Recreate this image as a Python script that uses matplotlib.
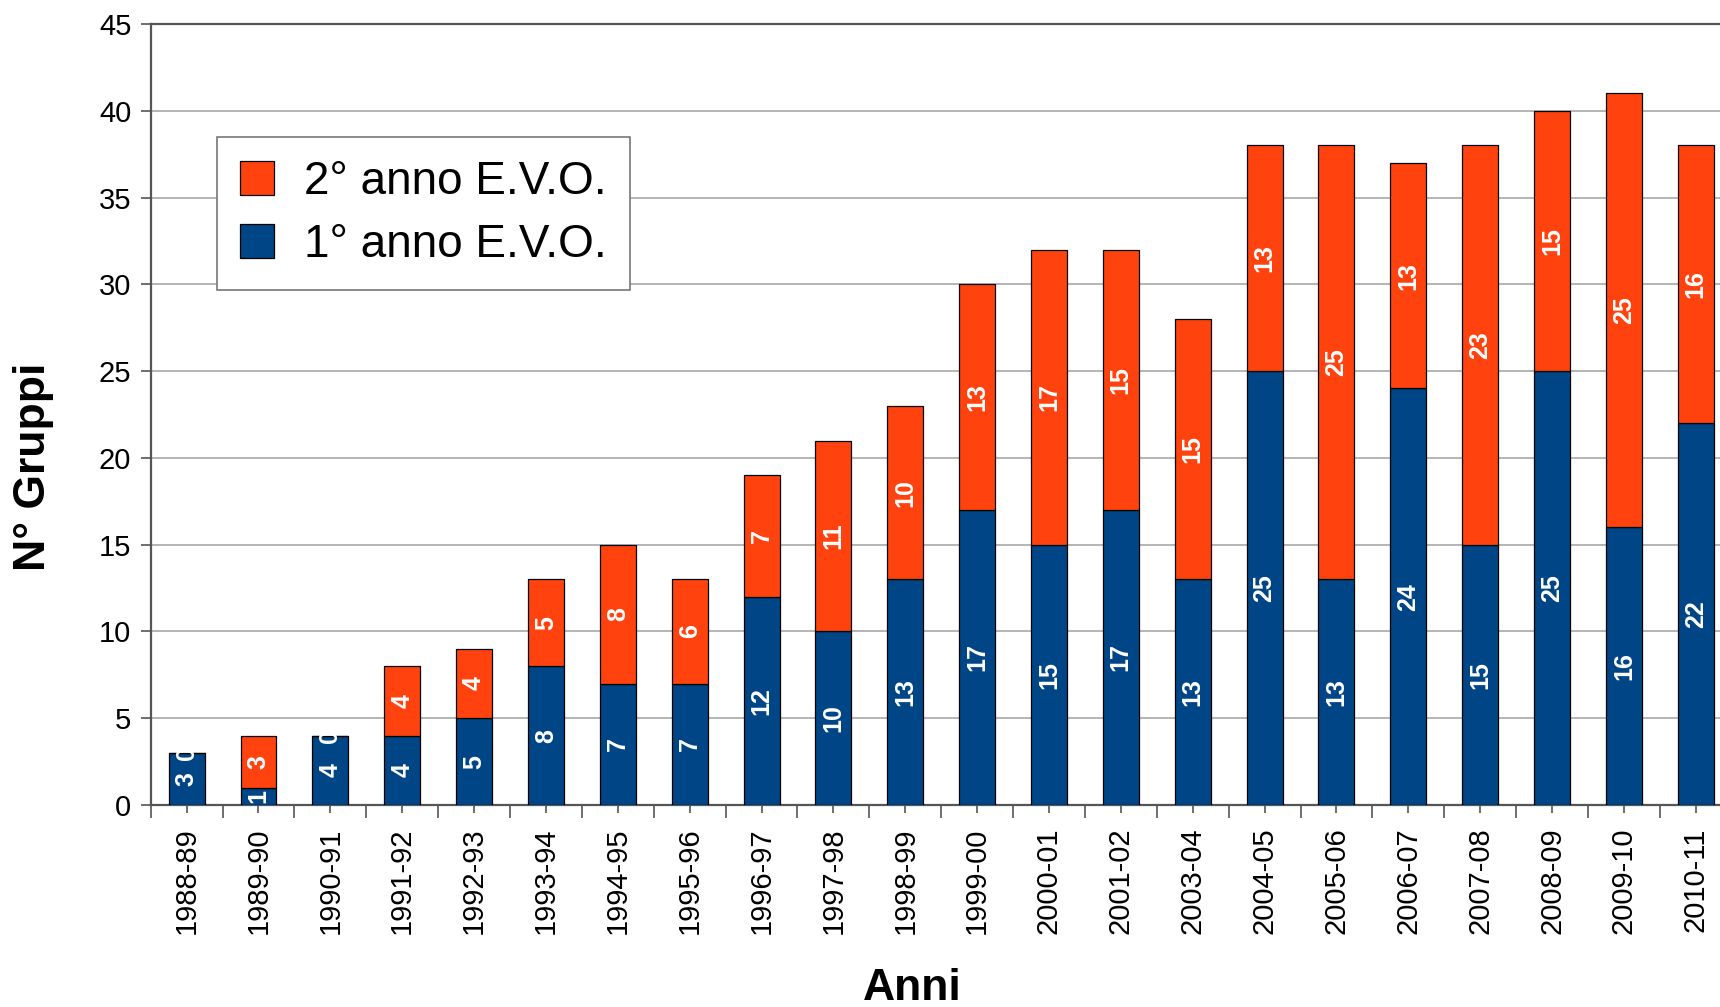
import matplotlib as mpl
mpl.use('agg')
import matplotlib.pyplot as plt
import numpy as np

plt.rcParams['font.family'] = ['Liberation Sans', 'DejaVu Sans']

anni = ['1988-89', '1989-90', '1990-91', '1991-92', '1992-93', '1993-94',
        '1994-95', '1995-96', '1996-97', '1997-98', '1998-99', '1999-00',
        '2000-01', '2001-02', '2003-04', '2004-05', '2005-06', '2006-07',
        '2007-08', '2008-09', '2009-10', '2010-11']
primo = [3, 1, 4, 4, 5, 8, 7, 7, 12, 10, 13, 17, 15, 17, 13, 25, 13, 24, 15, 25, 16, 22]
secondo = [0, 3, 0, 4, 4, 5, 8, 6, 7, 11, 10, 13, 17, 15, 15, 13, 25, 13, 23, 15, 25, 16]

BLUE = '#004586'
ORANGE = '#ff420e'

W, H = 1720, 1007
fig = plt.figure(figsize=(W / 100, H / 100), dpi=100)
# axes run a little past the right edge, like in the original export
ax = fig.add_axes([150.7 / W, (H - 805) / H, 1581 / W, 781 / H])

x = np.arange(len(anni))
b1 = ax.bar(x, primo, width=0.5, color=BLUE, edgecolor='black', linewidth=0.9,
            label='1° anno E.V.O.', zorder=3)
b2 = ax.bar(x, secondo, width=0.5, bottom=primo, color=ORANGE, edgecolor='black',
            linewidth=0.9, label='2° anno E.V.O.', zorder=3)

for bars in (b1, b2):
    ax.bar_label(bars, label_type='center', rotation=90, color='white',
                 fontweight='bold', fontsize=18, zorder=4)

ax.set_xlim(-0.5, len(anni) - 0.5)
ax.set_ylim(0, 45)
ax.set_yticks(np.arange(0, 46, 5))
ax.set_xticks(x)
ax.set_xticklabels(anni, rotation=90)
ax.set_xticks(np.arange(-0.5, len(anni), 1), minor=True)

ax.grid(axis='y', color='#a8a8a8', linewidth=1.2, zorder=0)
ax.set_axisbelow(True)

for s in ['left', 'bottom', 'top']:
    ax.spines[s].set_color('#555555')
    ax.spines[s].set_linewidth(1.6)
ax.spines['right'].set_visible(False)

ax.tick_params(axis='y', which='major', length=7, width=1.2, color='#555555',
               labelsize=21, pad=7)
ax.tick_params(axis='x', which='major', length=6, width=1.2, color='#555555',
               labelsize=21, pad=10)
ax.tick_params(axis='x', which='minor', length=9, width=1.2, color='#555555')

leg = ax.legend(handles=[b2, b1], loc='upper left',
                bbox_to_anchor=(217 / W, 1 - 137 / H), bbox_transform=fig.transFigure,
                fontsize=33, fancybox=False, framealpha=1, edgecolor='#777777',
                handlelength=0.75, handleheight=0.75, handletextpad=0.65,
                labelspacing=0.42, borderpad=0.5, borderaxespad=0)
leg.get_frame().set_linewidth(1.2)
leg.set_zorder(5)

fig.text(34 / W, 1 - 467 / H, 'N° Gruppi', rotation=90, ha='center', va='center',
         fontsize=32, fontweight='bold')
fig.text(912 / W, 1 - 1000 / H, 'Anni', ha='center', va='baseline',
         fontsize=32, fontweight='bold')

fig.savefig('out.png', dpi=100)
plt.close(fig)
